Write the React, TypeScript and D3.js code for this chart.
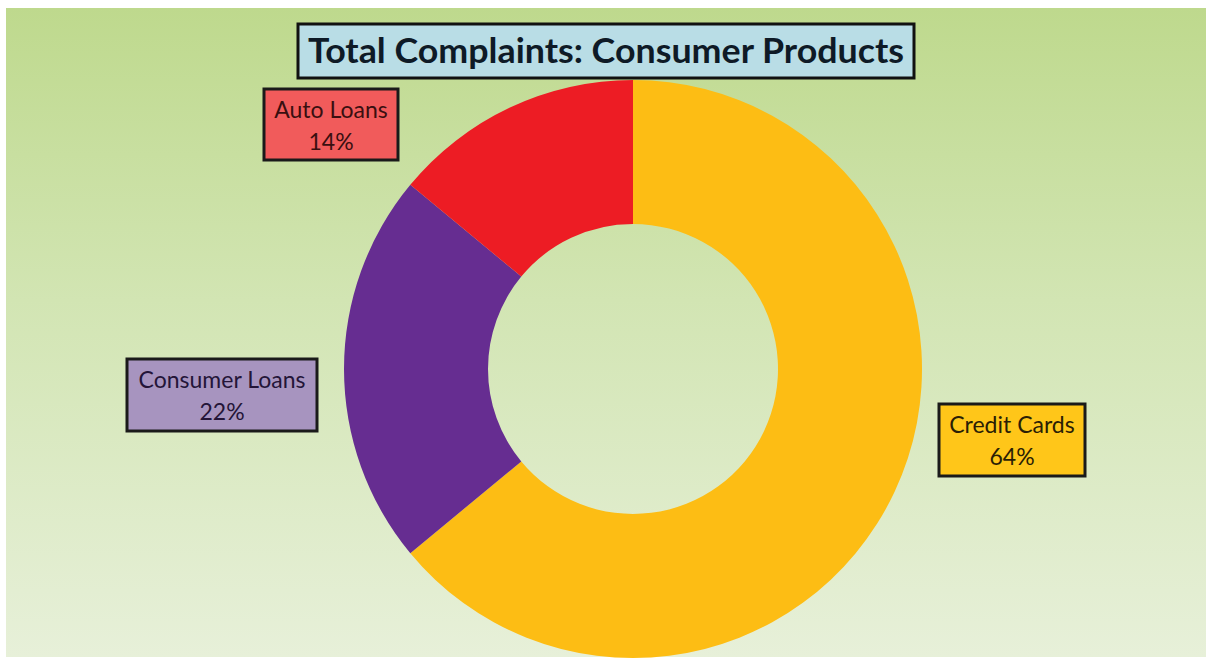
import React from "react";
import * as d3 from "d3";

const categories = ["Credit Cards", "Consumer Loans", "Auto Loans"];
const values = [64, 22, 14];
const sliceColors = ["#FDBD14", "#662D91", "#ED1C24"];
const labelFills = ["#FFC619", "#A794BF", "#F15B5B"];
const labelTextColors = ["#2B1E05", "#241538", "#3A0F10"];
const title = "Total Complaints: Consumer Products";

const W = 1206;
const H = 659;
const cx = 633;
const cy = 369;
const outerR = 289;
const innerR = 145;

// label box layout: [x, y, w, h]
const labelBoxes: [number, number, number, number][] = [
  [939, 404, 146, 72],
  [127, 359, 190, 72],
  [264, 89, 134, 71],
];

export default function App() {
  const pie = d3
    .pie<number>()
    .sort(null)
    .value((d) => d);
  const arcs = pie(values);
  const arcGen = d3.arc<d3.PieArcDatum<number>>().innerRadius(innerR).outerRadius(outerR);
  const font = "Lato, 'Open Sans', sans-serif";

  return (
    <svg
      width={W}
      height={H}
      style={{ position: "absolute", left: 0, top: 0, background: "#fff" }}
    >
      <defs>
        <linearGradient id="bg" x1="0" y1="0" x2="0" y2="1">
          <stop offset="0%" stopColor="#BED98D" />
          <stop offset="45%" stopColor="#D2E5B3" />
          <stop offset="100%" stopColor="#E7F0D9" />
        </linearGradient>
      </defs>
      <rect x={6} y={8} width={W - 6} height={H - 10} fill="url(#bg)" />
      <g transform={`translate(${cx},${cy})`}>
        {arcs.map((a, i) => (
          <path key={categories[i]} d={arcGen(a) || ""} fill={sliceColors[i]} />
        ))}
      </g>
      <rect x={298} y={24} width={616} height={54} fill="#B9DDE6" stroke="#111" strokeWidth={3} />
      <text
        x={606}
        y={63}
        textAnchor="middle"
        fontFamily={font}
        fontWeight="bold"
        fontSize={34}
        textLength={596}
        lengthAdjust="spacingAndGlyphs"
        fill="#0E1A26"
      >
        {title}
      </text>
      {categories.map((c, i) => {
        const [x, y, w, h] = labelBoxes[i];
        return (
          <g key={c}>
            <rect x={x} y={y} width={w} height={h} fill={labelFills[i]} stroke="#1A1A1A" strokeWidth={3} />
            <text
              x={x + w / 2}
              y={y + 29}
              textAnchor="middle"
              fontFamily={font}
              fontSize={23}
              fill={labelTextColors[i]}
            >
              {c}
            </text>
            <text
              x={x + w / 2}
              y={y + 61}
              textAnchor="middle"
              fontFamily={font}
              fontSize={23}
              fill={labelTextColors[i]}
            >
              {values[i]}%
            </text>
          </g>
        );
      })}
    </svg>
  );
}
